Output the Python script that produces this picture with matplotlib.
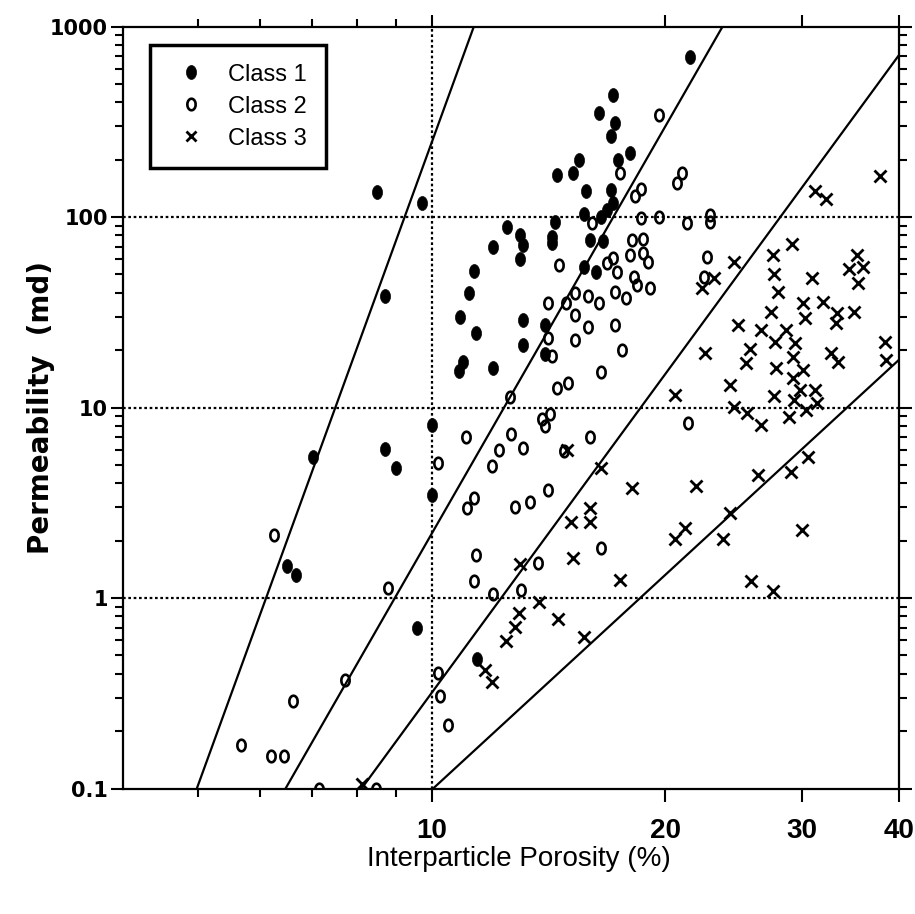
import numpy as np
import matplotlib
matplotlib.use("Agg")
import matplotlib.pyplot as plt
from matplotlib.path import Path
from matplotlib.lines import Line2D

# class 1 (filled)
c1_por = [8.5, 8.7, 9.7, 17.1, 16.4, 17.2, 17.0, 18.0, 17.4, 15.5, 15.2, 14.5, 15.8, 17.0,
          17.1, 16.8, 16.5, 15.7, 14.4, 12.5, 13.0, 13.1, 12.0, 13.0, 16.0, 16.6, 14.3, 14.3,
          11.35, 11.17, 10.87, 11.4, 10.97, 10.85, 11.98, 13.1, 13.1, 15.7, 16.3, 14.0, 14.0,
          21.5, 7.02, 8.7, 8.99, 6.5, 6.68, 10.0, 10.0, 9.57, 11.44]
c1_perm = [136, 38.6, 118, 437, 353, 313, 266, 218, 199, 199, 171, 166, 137, 139,
           119, 109, 100, 104, 94.5, 89, 80.4, 71.3, 69.8, 60, 75.7, 75, 79, 73,
           52.3, 39.8, 30, 24.5, 17.4, 15.6, 16.1, 28.8, 21.3, 54.8, 51.6, 27.1, 19.1,
           694, 5.52, 6.03, 4.83, 1.48, 1.32, 8.09, 3.47, 0.693, 0.477]

# class 2 (open)
c2_por = [6.26, 8.78, 7.72, 6.63, 5.67, 6.21, 6.45, 7.15, 8.47,
          10.2, 11.08, 12.64, 12.2, 13.1, 11.94, 13.85, 14.2, 14.0, 14.8, 16.0, 11.1, 11.33,
          12.8, 13.4, 14.1, 11.4, 11.33, 12.0, 13.05, 13.7, 16.5, 10.19, 10.26, 10.5,
          19.6, 17.5, 18.6, 18.3, 18.6, 16.1, 19.6, 18.1, 18.7, 17.1, 16.8, 18.0, 18.7, 19.0,
          17.3, 18.2, 18.4, 19.1, 17.8, 17.2, 15.9, 16.4, 15.3, 14.9, 14.1, 15.3, 15.9, 17.2,
          15.3, 17.6, 14.6, 14.3, 14.1, 16.5, 14.5, 15.0, 12.6,
          21.0, 20.7, 21.3, 22.8, 22.8, 22.6, 22.4, 21.4]
c2_perm = [2.14, 1.13, 0.371, 0.288, 0.169, 0.148, 0.148, 0.1, 0.1,
           5.09, 7.03, 7.23, 5.98, 6.11, 4.93, 8.67, 9.25, 8.0, 5.9, 6.97, 2.96, 3.34,
           3.01, 3.2, 3.69, 1.68, 1.23, 1.05, 1.10, 1.53, 1.84, 0.406, 0.306, 0.215,
           343, 170, 140, 129, 98.5, 92.7, 100, 75.7, 77, 60.7, 57.2, 63, 64.5, 57.8,
           51.6, 48.6, 44, 42.2, 37.4, 40.6, 38.5, 35.2, 39.8, 35.2, 35.2, 30.6, 26.6, 27.1,
           22.6, 20, 56, 18.6, 23.1, 15.4, 12.6, 13.4, 11.4,
           170, 151, 92.7, 102, 94.5, 61.9, 48.6, 8.32]

# class 3 (crosses)
c3_por = [37.8, 31.2, 32.2, 29.1, 27.5, 27.6, 27.9, 24.5, 23.1, 22.3, 30.9, 35.3, 34.5, 36.0,
          35.4, 30.1, 31.9, 30.3, 35.0, 33.3, 33.2, 27.4, 24.8, 26.6, 28.6, 27.7, 29.4, 25.7,
          29.2, 32.7, 33.4, 25.4, 22.5, 27.8, 30.1, 29.2, 29.8, 31.2, 31.4, 29.3, 27.6, 24.2,
          20.6, 38.4, 38.5, 24.5, 25.5, 26.6, 28.9, 30.4, 21.9, 26.3, 29.0, 30.5, 24.2, 21.2,
          20.6, 23.7, 30.0, 25.8, 27.5,
          16.5, 18.1, 16.0, 16.0, 15.1, 15.2, 17.5, 13.0, 13.75, 14.55, 15.7, 12.95, 12.8,
          12.45, 11.7, 11.97, 8.12, 14.95]
c3_perm = [165, 137, 125, 72.2, 63, 50, 40.6, 57.8, 47.6, 42.2, 47.6, 63, 53.1, 54.8,
           44.9, 35.2, 35.9, 29.4, 31.8, 31.2, 27.7, 31.8, 27.1, 25.5, 25.5, 22.0, 21.7, 20.2,
           18.5, 19.3, 17.4, 17.1, 19.3, 16.1, 15.7, 14.2, 12.4, 12.4, 10.5, 10.9, 11.5, 13.1,
           11.6, 22.2, 17.8, 10.1, 9.32, 8.09, 8.89, 9.7, 3.87, 4.42, 4.6, 5.52, 2.8, 2.34,
           2.03, 2.03, 2.28, 1.23, 1.09,
           4.8, 3.77, 2.96, 2.5, 2.5, 1.63, 1.24, 1.51, 0.95, 0.773, 0.626, 0.831, 0.707,
           0.597, 0.419, 0.364, 0.106, 5.95]

# class boundary lines: (porosity, permeability) end points
bound_por = [[4.98, 11.33], [6.48, 23.7], [8.12, 40.0], [10.04, 40.0]]
bound_perm = [[0.1, 1000], [0.1, 1000], [0.1, 708], [0.1, 17.8]]

y_ticks = [0.1, 1, 10, 100, 1000]
y_labels = ["0.1", "1", "10", "100", "1000"]
x_ticks = [10, 20, 30, 40]
x_labels = ["10", "20", "30", "40"]

narrow = ["Liberation Sans Narrow", "Liberation Sans", "DejaVu Sans"]

t = np.linspace(0, 2 * np.pi, 60)
ellipse = Path(np.column_stack([0.72 * np.cos(t), np.sin(t)]))

fig = plt.figure(figsize=(9.15, 9.14), dpi=100)
ax = fig.add_axes([0.1344, 0.1373, 0.8481, 0.8337])
ax.set_xscale("log")
ax.set_yscale("log")
ax.set_xlim(4, 40)
ax.set_ylim(0.1, 1000)

for yv in [1, 10, 100]:
    ax.axhline(yv, color="black", lw=1.6, ls=(0, (1.2, 1.2)), zorder=1)
ax.axvline(10, color="black", lw=1.6, ls=(0, (1.2, 1.2)), zorder=1)

for px, py in zip(bound_por, bound_perm):
    ax.plot(px, py, color="black", lw=1.6, zorder=2)

ax.plot(c1_por, c1_perm, ls="none", marker=ellipse, ms=10, mfc="black", mec="black",
        mew=0.5, zorder=3)
ax.plot(c2_por, c2_perm, ls="none", marker=ellipse, ms=8.3, mfc="none", mec="black",
        mew=1.9, zorder=3)
ax.plot(c3_por, c3_perm, ls="none", marker="x", ms=8, mec="black", mew=2.0, zorder=3)

for s in ax.spines.values():
    s.set_linewidth(1.6)

ax.set_xticks(x_ticks, x_labels)
ax.set_xticks([5, 6, 7, 8, 9], minor=True)
ax.xaxis.set_minor_formatter(plt.NullFormatter())
ax.set_yticks(y_ticks, y_labels)
minors = [m * 10.0 ** e for e in range(-1, 3) for m in range(2, 10)]
ax.set_yticks(minors, minor=True)
ax.yaxis.set_minor_formatter(plt.NullFormatter())

ax.tick_params(which="both", direction="out", top=True, right=True, width=1.5)
ax.tick_params(which="major", length=9)
ax.tick_params(which="minor", length=6)
ax.tick_params(axis="x", pad=12)
ax.tick_params(axis="y", pad=2)
for lab in ax.get_xticklabels():
    lab.set_family(narrow)
    lab.set_fontsize(20)
    lab.set_fontweight("bold")
for lab in ax.get_yticklabels():
    lab.set_family("DejaVu Sans")
    lab.set_fontsize(15)
    lab.set_fontweight("bold")

ax.set_xlabel("Interparticle Porosity (%)", family=narrow, fontsize=20)
ax.xaxis.set_label_coords(0.51, -0.075)
ax.set_ylabel("Permeability  (md)", family="DejaVu Sans", fontsize=20, fontweight="bold")
ax.yaxis.set_label_coords(-0.088, 0.5)

handles = [
    Line2D([], [], ls="none", marker=ellipse, ms=10, mfc="black", mec="black", mew=0.5),
    Line2D([], [], ls="none", marker=ellipse, ms=8.3, mfc="none", mec="black", mew=1.9),
    Line2D([], [], ls="none", marker="x", ms=7, mec="black", mew=2.0),
]
leg = ax.legend(handles, ["Class 1", "Class 2", "Class 3"], loc="upper left",
                bbox_to_anchor=(0.035, 0.976), borderaxespad=0, fancybox=False,
                framealpha=1, edgecolor="black", prop={"family": narrow, "size": 17},
                handlelength=1.9, handletextpad=0.6, labelspacing=0.42, borderpad=0.8)
leg.get_frame().set_linewidth(2.5)

fig.savefig("out.png", dpi=100)
